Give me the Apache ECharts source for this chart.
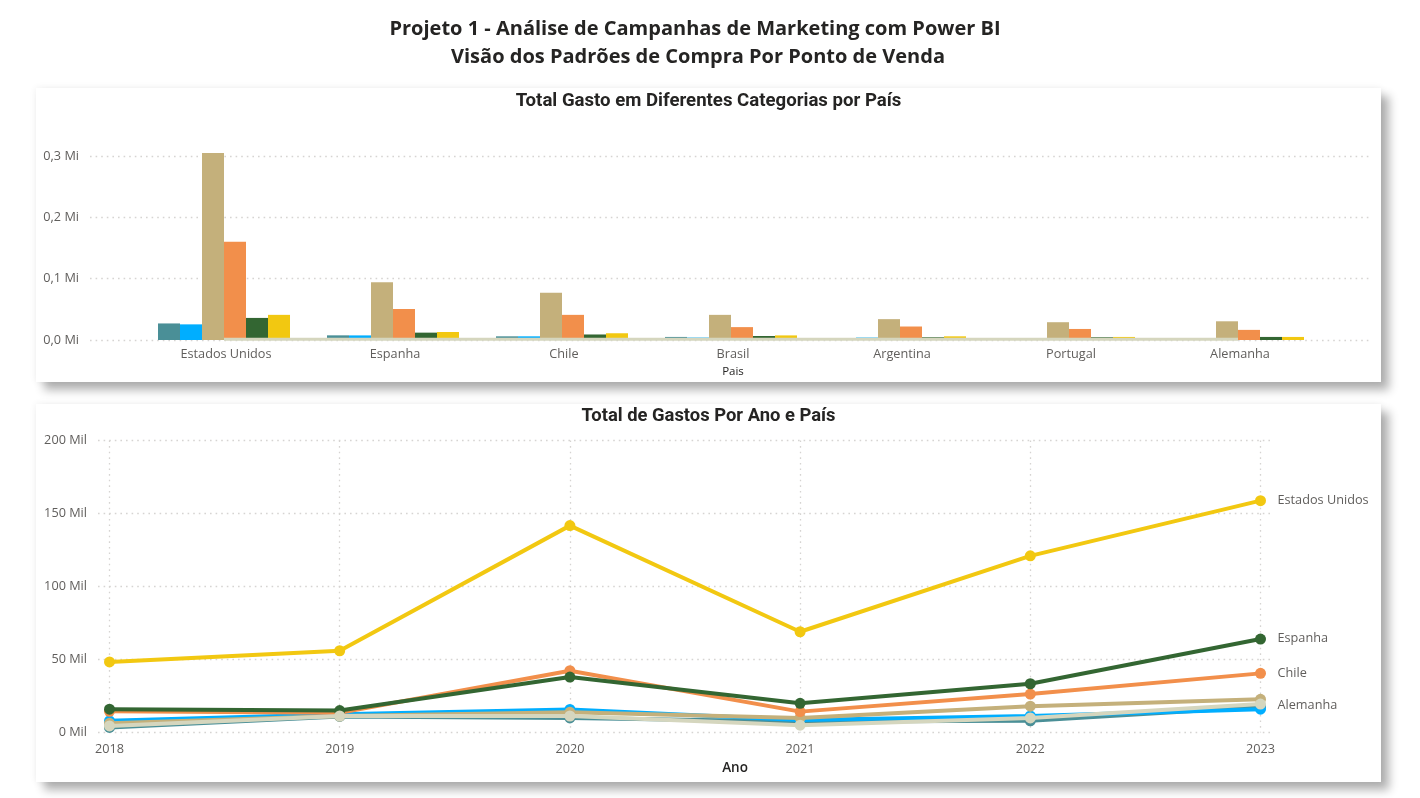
<!DOCTYPE html>
<html><head><meta charset="utf-8">
<style>html,body{margin:0;padding:0;background:#fff}#c{width:1420px;height:798px}</style>
<script src="https://cdn.jsdelivr.net/npm/echarts@6/dist/echarts.min.js"></script>
</head><body><div id="c"></div>
<script>
const paises = ['Estados Unidos','Espanha','Chile','Brasil','Argentina','Portugal','Alemanha'];
const anos = ['2018','2019','2020','2021','2022','2023'];
// Total gasto por categoria (barras) - valores estimados
const cat1 = [27000,7600,6000,5000,3000,3000,3000];
const cat2 = [25500,7500,6000,4000,4000,3000,3000];
const cat3 = [305000,94000,77000,41000,34000,29000,30500];
const cat4 = [160000,50500,41000,21000,22000,18000,16500];
const cat5 = [36000,12000,9000,6500,4500,4500,5000];
const cat6 = [41000,13000,11000,7500,6000,5000,5000];
const cat7 = [1100,1100,1100,1100,1100,1100,1100];
// Total de gastos por ano (linhas) - valores estimados
const argentina = [3500,11000,10000,7500,8000,17500];
const brasil = [8000,12500,15800,8500,11300,16000];
const alemanha = [6300,11300,13800,10000,18000,22700];
const chile = [14500,13500,42300,14300,26300,40500];
const espanha = [16000,15000,38000,20000,33400,64000];
const estadosUnidos = [48300,56000,141700,69000,121000,158800];
const portugal = [4500,11300,11300,5000,10000,19500];

const TEAL='#4A8F97',BLUE='#00AEFF',TAN='#C4B07B',ORANGE='#F28F4B',GREEN='#336632',YELLOW='#F2C811',PALE='#D5D6BE';
const GREY='#605E5C', DARK='#252423', FONT='"Open Sans",sans-serif', TFONT='Roboto,sans-serif';
const dotted={type:[1.6,4],color:'#d6d4d2',width:1.3};
const FS=12.7;

const chart=echarts.init(document.getElementById('c'),null,{renderer:'canvas'});

const barSeries=[[cat1,TEAL],[cat2,BLUE],[cat3,TAN],[cat4,ORANGE],[cat5,GREEN],[cat6,YELLOW]].map(([d,c],i)=>({
  name:'Categoria '+(i+1),type:'bar',xAxisIndex:1,yAxisIndex:1,data:d,barWidth:22,barGap:0,
  itemStyle:{color:c},silent:true,z:2
}));
barSeries.push({name:'Categoria 7',type:'line',xAxisIndex:1,yAxisIndex:1,data:cat7,symbol:'none',
  lineStyle:{color:PALE,width:3},silent:true,z:3});

const lineDefs=[['Argentina',argentina,TEAL],['Brasil',brasil,BLUE],['Alemanha',alemanha,TAN],['Chile',chile,ORANGE],
  ['Espanha',espanha,GREEN],['Estados Unidos',estadosUnidos,YELLOW],['Portugal',portugal,PALE]];
const labelled={'Alemanha':[0,6],'Chile':[0,0],'Espanha':[0,-1],'Estados Unidos':[0,0]};
const lineSeries=lineDefs.map(([n,d,c],i)=>({
  name:n,type:'line',xAxisIndex:3,yAxisIndex:3,data:d,symbol:'circle',symbolSize:11,showSymbol:true,
  lineStyle:{color:c,width:4},itemStyle:{color:c},silent:true,z:3+i,clip:false,
  endLabel:labelled[n]?{show:true,formatter:n,color:GREY,fontFamily:FONT,fontSize:FS,distance:17,offset:labelled[n]}:{show:false}
}));
const card={fill:'#fff',shadowBlur:9,shadowOffsetX:8,shadowOffsetY:8,shadowColor:'rgba(0,0,0,0.3)'};
const halo={fill:'#fff',shadowBlur:7,shadowOffsetX:0,shadowOffsetY:0,shadowColor:'rgba(0,0,0,0.07)'};

chart.setOption({
  animation:false,backgroundColor:'#fff',
  graphic:[
    {type:'rect',z:-2,shape:{x:36,y:88,width:1345,height:294},style:card},
    {type:'rect',z:-2,shape:{x:36,y:404,width:1345,height:378},style:card},
    {type:'rect',z:-1,shape:{x:36,y:88,width:1345,height:294},style:halo},
    {type:'rect',z:-1,shape:{x:36,y:404,width:1345,height:378},style:halo}
  ],
  title:[
    {text:'Projeto 1 - Análise de Campanhas de Marketing com Power BI',left:690,top:10,textAlign:'center',
     textStyle:{fontFamily:FONT,fontSize:20,fontWeight:700,color:DARK,lineHeight:28}},
    {text:'Visão dos Padrões de Compra Por Ponto de Venda',left:693,top:38,textAlign:'center',
     textStyle:{fontFamily:FONT,fontSize:20,fontWeight:700,color:DARK,lineHeight:28}},
    {text:'Total Gasto em Diferentes Categorias por País',left:703.5,top:85,textAlign:'center',
     textStyle:{fontFamily:TFONT,fontSize:18.6,fontWeight:700,color:DARK,lineHeight:22}},
    {text:'Total de Gastos Por Ano e País',left:703.5,top:400,textAlign:'center',
     textStyle:{fontFamily:TFONT,fontSize:18.4,fontWeight:700,color:DARK,lineHeight:22}}
  ],
  grid:[
    {left:90,right:50,top:94.67,height:245.33},
    {left:139.5,right:97.5,top:94.67,height:245.33},
    {left:98,right:150,top:440.5,height:292},
    {left:109.5,right:159.5,top:440.5,height:292}
  ],
  xAxis:[
    {gridIndex:0,type:'category',data:paises,show:false},
    {gridIndex:1,type:'category',data:paises,axisLine:{show:false},axisTick:{show:false},
     axisLabel:{color:GREY,fontFamily:FONT,fontSize:FS,margin:8,padding:[0,0,0,4]},
     name:'Pais',nameLocation:'middle',nameGap:26,nameTextStyle:{color:DARK,fontFamily:FONT,fontSize:11.5,padding:[0,0,0,4]}},
    {gridIndex:2,type:'category',data:anos,show:false},
    {gridIndex:3,type:'category',data:anos,boundaryGap:false,axisLine:{show:false},axisTick:{show:false},
     axisLabel:{color:GREY,fontFamily:FONT,fontSize:FS,margin:10,showMinLabel:true,showMaxLabel:true},
     splitLine:{show:true,lineStyle:dotted},
     name:'Ano',nameLocation:'middle',nameGap:29,nameTextStyle:{color:DARK,fontFamily:FONT,fontSize:13.5,fontWeight:600,padding:[0,0,0,100]}}
  ],
  yAxis:[
    {gridIndex:0,type:'value',min:0,max:400000,interval:100000,axisLine:{show:false},axisTick:{show:false},
     axisLabel:{color:GREY,fontFamily:FONT,fontSize:FS,margin:11,padding:[3,0,0,0],showMaxLabel:false,formatter:v=>(v/1e6).toFixed(1).replace('.',',')+' Mi'},
     splitLine:{show:true,showMaxLine:false,lineStyle:dotted}},
    {gridIndex:1,type:'value',min:0,max:400000,interval:100000,show:false,splitLine:{show:false}},
    {gridIndex:2,type:'value',min:0,max:200000,interval:50000,axisLine:{show:false},axisTick:{show:false},
     axisLabel:{color:GREY,fontFamily:FONT,fontSize:FS,margin:11,padding:[1,0,0,0],formatter:v=>(v/1000)+' Mil'},
     splitLine:{show:true,lineStyle:dotted}},
    {gridIndex:3,type:'value',min:0,max:200000,interval:50000,show:false,splitLine:{show:false}}
  ],
  series:[
    {type:'bar',xAxisIndex:0,yAxisIndex:0,data:[],silent:true},
    {type:'bar',xAxisIndex:2,yAxisIndex:2,data:[],silent:true},
    ...barSeries,...lineSeries
  ]
});
</script></body></html>
